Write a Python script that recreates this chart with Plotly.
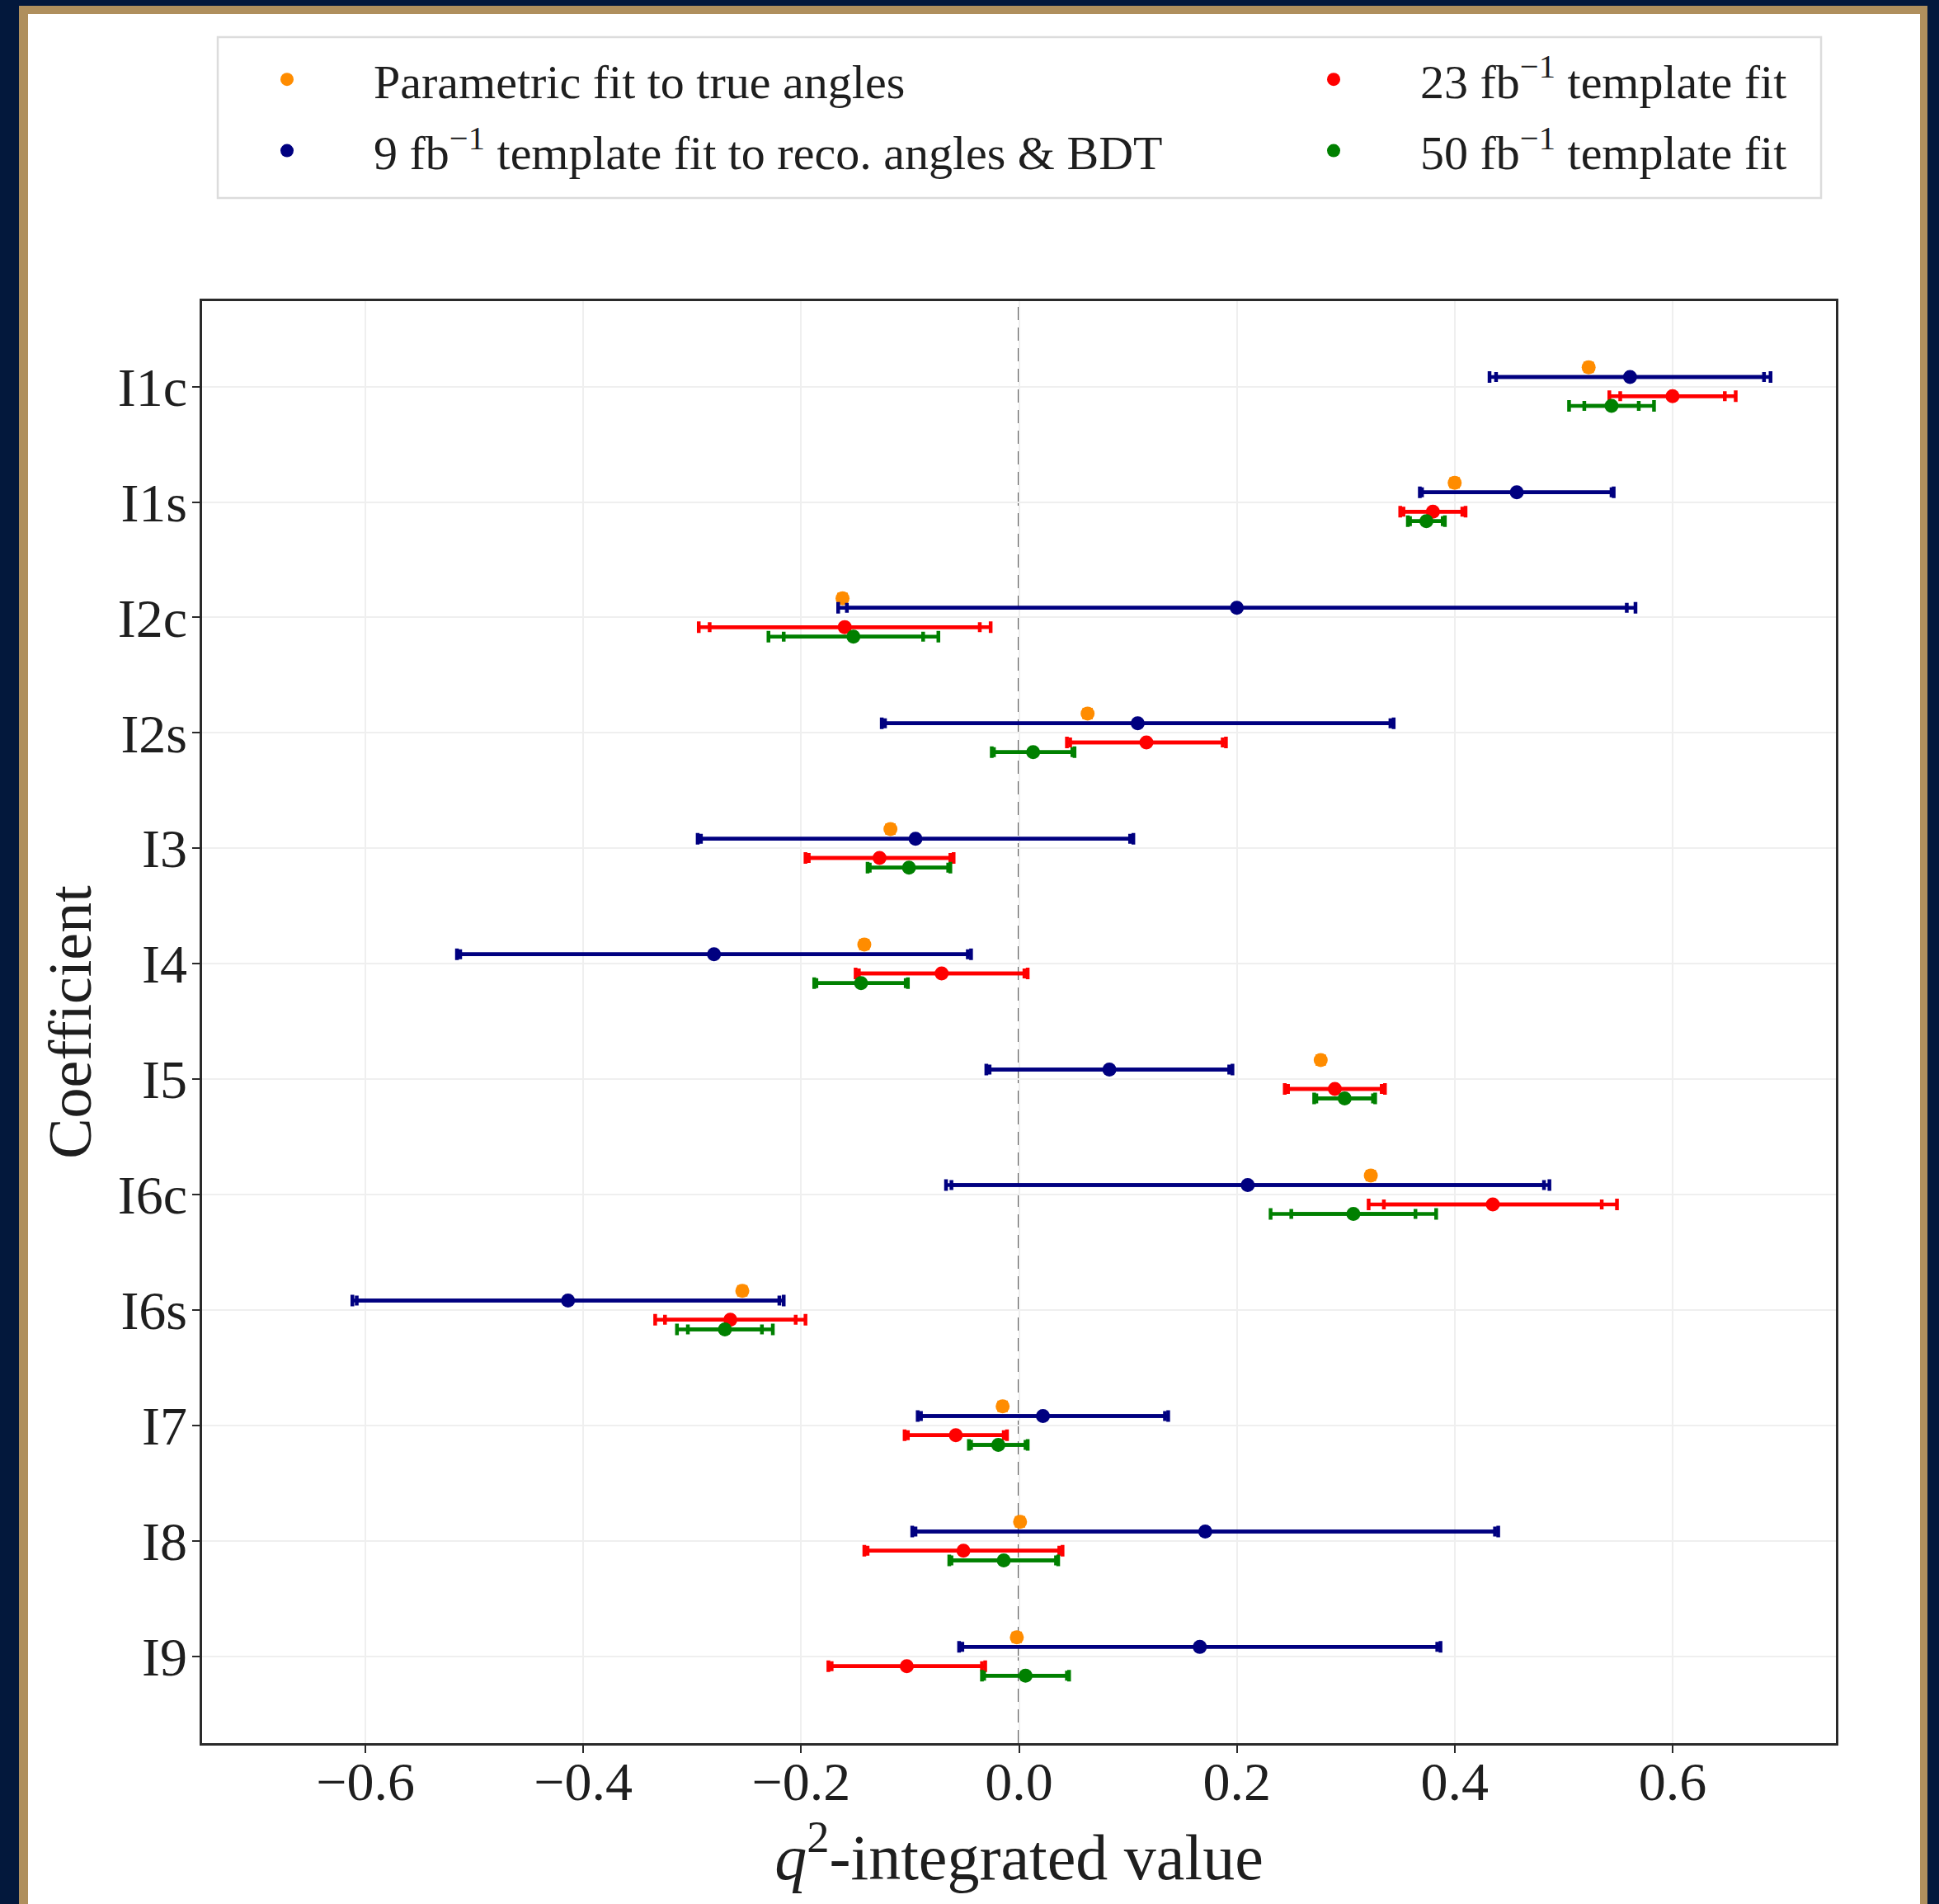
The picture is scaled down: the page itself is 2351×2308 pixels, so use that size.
import plotly.graph_objects as go

# Angular coefficients (top to bottom)
coefficients = ["I1c", "I1s", "I2c", "I2s", "I3", "I4", "I5", "I6c", "I6s", "I7", "I8", "I9"]

# Parametric fit to true angles
truth = [0.523, 0.400, -0.162, 0.063, -0.118, -0.142, 0.277, 0.323, -0.254, -0.015, 0.001, -0.002]
truth_err = [0.003, 0.003, 0.003, 0.003, 0.003, 0.003, 0.003, 0.003, 0.003, 0.003, 0.003, 0.003]

# 9 fb^-1 template fit: central value, total and statistical uncertainty
fit9 = [0.561, 0.457, 0.200, 0.109, -0.095, -0.280, 0.083, 0.210, -0.414, 0.022, 0.171, 0.166]
fit9_tot = [0.129, 0.089, 0.366, 0.235, 0.200, 0.236, 0.113, 0.277, 0.198, 0.115, 0.269, 0.221]
fit9_stat = [0.123, 0.087, 0.358, 0.232, 0.197, 0.233, 0.110, 0.272, 0.194, 0.112, 0.266, 0.218]

# 23 fb^-1 template fit
fit23 = [0.600, 0.380, -0.160, 0.117, -0.128, -0.071, 0.290, 0.435, -0.265, -0.058, -0.051, -0.103]
fit23_tot = [0.058, 0.030, 0.134, 0.073, 0.068, 0.079, 0.046, 0.114, 0.069, 0.047, 0.091, 0.072]
fit23_stat = [0.048, 0.027, 0.124, 0.070, 0.065, 0.076, 0.043, 0.100, 0.060, 0.044, 0.088, 0.069]

# 50 fb^-1 template fit
fit50 = [0.544, 0.374, -0.152, 0.013, -0.101, -0.145, 0.299, 0.307, -0.270, -0.019, -0.014, 0.006]
fit50_tot = [0.039, 0.017, 0.078, 0.038, 0.038, 0.043, 0.028, 0.076, 0.044, 0.027, 0.050, 0.040]
fit50_stat = [0.025, 0.015, 0.064, 0.036, 0.036, 0.041, 0.026, 0.057, 0.034, 0.025, 0.048, 0.038]

x_ticks = [-0.6, -0.4, -0.2, 0.0, 0.2, 0.4, 0.6]

# ---- figure geometry (pixels) ----
W, H = 2351, 2308
L, R, T, B = 245, 2226, 365, 2113
PW, PH = R - L, B - T

NAVY = "#03183c"
GOLD = "#af8f5d"
FONT = "Liberation Serif"
INK = "#1e1e1e"


def px(x):
    return (x - L) / PW


def py(y):
    return (B - y) / PH


series = [
    # name, values, total err, stat err, colour, vertical shift, legend, rank
    ("Parametric fit to true angles", truth, truth_err, truth_err, "#ff8c00", -1 / 6, "legend", 1),
    ("9 fb<sup>\u22121</sup> template fit to reco. angles &amp; BDT", fit9, fit9_tot, fit9_stat, "#000080", -1 / 12, "legend", 2),
    ("23 fb<sup>\u22121</sup> template fit", fit23, fit23_tot, fit23_stat, "#ff0000", 1 / 12, "legend2", 3),
    ("50 fb<sup>\u22121</sup> template fit", fit50, fit50_tot, fit50_stat, "#008000", 1 / 6, "legend2", 4),
]

fig = go.Figure()
idx = list(range(len(coefficients)))

for name, vals, tot, stat, col, shift, leg, rank in series:
    ys = [i + shift for i in idx]
    # inner (statistical) bar with its own caps
    fig.add_trace(go.Scatter(
        x=vals, y=ys, mode="markers",
        marker=dict(size=1, color=col, opacity=0),
        error_x=dict(type="data", array=stat, color=col, thickness=4.5, width=6),
        showlegend=False, hoverinfo="skip",
    ))
    # outer (total) bar with the marker
    fig.add_trace(go.Scatter(
        x=vals, y=ys, mode="markers", name=name,
        marker=dict(size=17, color=col),
        error_x=dict(type="data", array=tot, color=col, thickness=4.5, width=7),
        legend=leg, legendgroup=name, legendrank=rank,
        customdata=coefficients,
        hovertemplate="%{customdata}: %{x:.3f}<extra>" + name + "</extra>",
    ))

shapes = [
    # frame: gold border on navy
    dict(type="rect", xref="paper", yref="paper", layer="below",
         x0=px(23), x1=px(2337), y0=py(2500), y1=py(7),
         fillcolor=GOLD, line=dict(width=0)),
    dict(type="rect", xref="paper", yref="paper", layer="below",
         x0=px(34), x1=px(2328), y0=py(2500), y1=py(17),
         fillcolor="white", line=dict(width=0)),
    # legend box
    dict(type="rect", xref="paper", yref="paper", layer="below",
         x0=px(264), x1=px(2208), y0=py(240), y1=py(45),
         fillcolor="white", line=dict(color="#dcdcdc", width=2.5)),
    # zero reference line
    dict(type="line", xref="x", yref="paper", layer="between",
         x0=0, x1=0, y0=0, y1=1,
         line=dict(color="#555555", width=3, dash="16px,9px")),
]

axis_common = dict(
    showline=True, linecolor="#2a2a2a", linewidth=2.5, mirror=True,
    ticks="outside", ticklen=9, tickwidth=2, tickcolor="#2a2a2a",
    showgrid=True, gridcolor="#efefef", gridwidth=2, zeroline=False,
    tickfont=dict(family=FONT, size=66, color=INK),
)

legend_common = dict(
    xanchor="left", yanchor="top", orientation="v",
    bgcolor="rgba(0,0,0,0)", borderwidth=0,
    font=dict(family=FONT, size=58, color=INK),
    itemwidth=200, tracegroupgap=8,
)

fig.update_layout(
    width=W, height=H,
    margin=dict(l=L, r=W - R, t=T, b=H - B, autoexpand=False),
    paper_bgcolor=NAVY, plot_bgcolor="white",
    font=dict(family=FONT, color=INK),
    shapes=shapes,
    xaxis=dict(
        range=[-0.75, 0.75], tickvals=x_ticks,
        ticktext=[("\u2212" if v < 0 else "") + f"{abs(v):.1f}" for v in x_ticks],
        ticklabelstandoff=-22,
        title=dict(text="<i>q</i><sup>2</sup>-integrated value",
                   font=dict(family=FONT, size=78, color=INK), standoff=6),
        **axis_common,
    ),
    yaxis=dict(
        range=[11.75, -0.74], tickvals=idx, ticktext=coefficients,
        ticklabelstandoff=-7,
        title=dict(text="Coefficient", font=dict(family=FONT, size=74, color=INK), standoff=8),
        **axis_common,
    ),
    legend=dict(x=px(243), y=py(52), **legend_common),
    legend2=dict(x=px(1512), y=py(52), **legend_common),
)

fig.write_html("out.html")
